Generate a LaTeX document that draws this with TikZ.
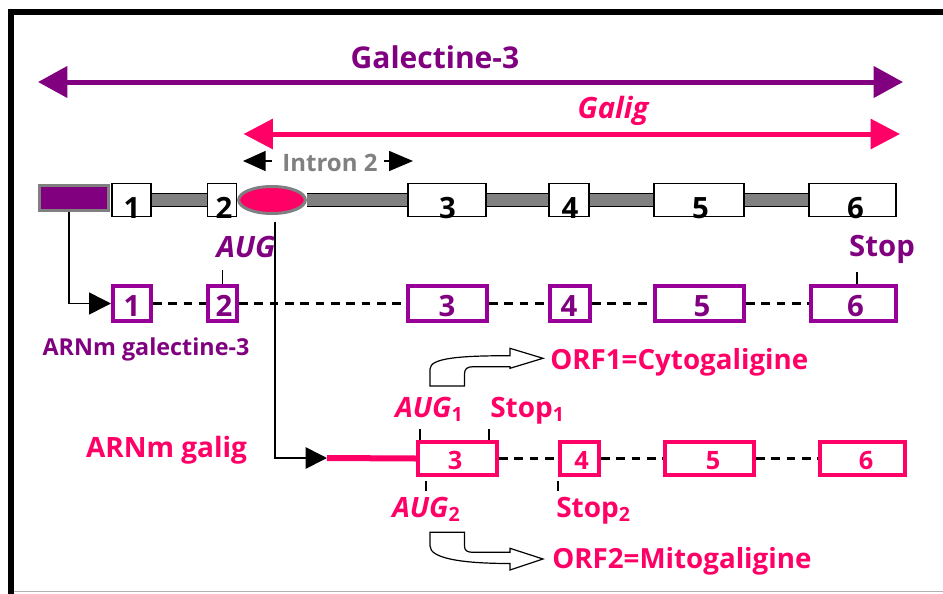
\documentclass[tikz,border=0pt]{standalone}
\usepackage{fontspec}
\setmainfont{Open Sans}
\usetikzlibrary{arrows.meta,shapes.geometric,backgrounds}
\definecolor{purp}{HTML}{800080}
\definecolor{mpurp}{HTML}{990099}
\definecolor{pinkc}{HTML}{FF0066}
\definecolor{gbar}{HTML}{808080}
\newcommand\myfs[1]{\fontsize{#1}{#1}\selectfont}
\tikzset{
  gbox/.style={draw=black, line width=1.2pt, fill=white, inner sep=0pt, minimum height=24.75pt},
  mbox/.style={draw=mpurp, line width=3pt, fill=white, inner sep=0pt, minimum height=25.8pt},
  pbox/.style={draw=pinkc, line width=3pt, fill=white, inner sep=0pt, minimum height=24.75pt},
  gdig/.style={font=\bfseries\myfs{22pt}, inner sep=0pt, anchor=base},
  mdig/.style={font=\bfseries\myfs{22pt}, text=purp, inner sep=0pt, anchor=base},
  pdig/.style={font=\bfseries\myfs{19pt}, text=pinkc, inner sep=0pt, anchor=base},
  link/.style={draw=black, line width=1.6pt, dash pattern=on 6.5pt off 5pt},
  conn/.style={draw=black, line width=1.2pt},
  tick/.style={draw=black, line width=1.1pt},
  bar/.style={draw=black, line width=0.7pt, double=gbar, double distance=8.5pt},
  blockarrow/.style={draw=black, line width=0.9pt, fill=white, line join=miter},
  lbl/.style={inner sep=0pt, anchor=base},
  lblw/.style={inner sep=0pt, anchor=base west},
}
\begin{document}
\begin{tikzpicture}[x=0.75pt,y=-0.75pt]
\useasboundingbox (0,0) rectangle (943,593);
% frame
\draw[gray!60, line width=1.2pt] (11,591.5) -- (943,591.5);
\draw[black, line width=4pt] (11,600) -- (11,12) -- (950,12);

% top arrows
\coordinate (ga1) at (38,82);
\coordinate (ga2) at (903,82);
\draw[purp, line width=3.75pt, {Triangle[length=22pt,width=23pt]}-{Triangle[length=22pt,width=23pt]}] (ga1) -- (ga2);
\node[lbl, text=purp, font=\bfseries\myfs{22.5pt}] (galt) at (435,68) {Galectine-3};
\coordinate (pa1) at (243.5,134);
\coordinate (pa2) at (900,134);
\draw[pinkc, line width=3.75pt, {Triangle[length=22pt,width=22pt]}-{Triangle[length=22pt,width=22pt]}] (pa1) -- (pa2);
\node[lbl, text=pinkc, font=\bfseries\itshape\myfs{22pt}] (galig) at (613,118) {Galig};

% intron 2
\node[lbl, text=gbar, font=\bfseries\myfs{18pt}] (intr) at (330,171) {Intron 2};
\coordinate (il1) at (272,161);
\coordinate (il2) at (243,161);
\coordinate (ir1) at (384,161);
\coordinate (ir2) at (413,161);
\draw[conn, -{Triangle[length=17pt,width=15pt]}] (il1) -- (il2);
\draw[conn, -{Triangle[length=18pt,width=15pt]}] (ir1) -- (ir2);

% gene row
\node[draw=gbar, line width=2.25pt, fill=purp, inner sep=0pt, minimum width=51.75pt, minimum height=18.75pt] (pr) at (74,198) {};
\node[gbox, minimum width=29.25pt] (g1) at (131.5,200) {};
\node[gbox, minimum width=21.5pt] (g2) at (222,200) {};
\node[draw=gbar, line width=2.25pt, fill=pinkc, ellipse, inner sep=0pt, minimum width=50pt, minimum height=20.25pt] (el) at (272,200) {};
\node[gbox, minimum width=58.5pt] (g3) at (447,200) {};
\node[gbox, minimum width=30pt] (g4) at (569,200) {};
\node[gbox, minimum width=67.5pt] (g5) at (699,200) {};
\node[gbox, minimum width=65.25pt] (g6) at (852.5,200) {};
\begin{scope}[on background layer]
\draw[bar] (g1.east) -- (g2.west);
\draw[bar] (el.east) -- (g3.west);
\draw[bar] (g3.east) -- (g4.west);
\draw[bar] (g4.east) -- (g5.west);
\draw[bar] (g5.east) -- (g6.west);
\end{scope}
\node[gdig] (g1t) at (132,218) {1};
\node[gdig] (g2t) at (224,218) {2};
\node[gdig] (g3t) at (447.5,218) {3};
\node[gdig] (g4t) at (570,218) {4};
\node[gdig] (g5t) at (700.5,218) {5};
\node[gdig] (g6t) at (855.5,218) {6};

% purple mRNA
\node[mbox, minimum width=28.5pt] (m1) at (132,303.5) {};
\node[mbox, minimum width=21.75pt] (m2) at (222.5,303.5) {};
\node[mbox, minimum width=59.25pt] (m3) at (447.5,303.5) {};
\node[mbox, minimum width=30pt] (m4) at (570,303.5) {};
\node[mbox, minimum width=66.75pt] (m5) at (699.5,303.5) {};
\node[mbox, minimum width=63.75pt] (m6) at (853.5,303.5) {};
\begin{scope}[on background layer]
\draw[link] (m1.east) -- (m2.west);
\draw[link] (m2.east) -- (m3.west);
\draw[link] (m3.east) -- (m4.west);
\draw[link] (m4.east) -- (m5.west);
\draw[link] (m5.east) -- (m6.west);
\end{scope}
\node[mdig] (m1t) at (132,316) {1};
\node[mdig] (m2t) at (224,316) {2};
\node[mdig] (m3t) at (447,316) {3};
\node[mdig] (m4t) at (569,316) {4};
\node[mdig] (m5t) at (702,316) {5};
\node[mdig] (m6t) at (855.5,316) {6};

\node[lbl, text=purp, font=\bfseries\itshape\myfs{22pt}] (aug) at (246,257) {AUG};
\draw[tick] (m2.north) -- ++(0,-14);
\node[lbl, text=purp, font=\bfseries\myfs{22pt}] (stop) at (882,256) {Stop};
\draw[tick] ([xshift=2.6pt]m6.north) -- ++(0,-12);
\node[lbl, text=purp, font=\bfseries\myfs{17.5pt}] (arnm1) at (146,355) {ARNm galectine-3};

% connectors
\draw[conn, -{Triangle[length=16.5pt,width=16.5pt]}] ([xshift=-3.75pt]pr.south) |- (m1.west);
\coordinate (pl) at (327,458);
\draw[conn, -{Triangle[length=16pt,width=16pt]}] ([xshift=2.25pt,yshift=-5pt]el.south) |- (pl);

% pink mRNA
\node[pbox, minimum width=59.25pt] (p3) at (457.5,458.5) {};
\node[pbox, minimum width=29.25pt] (p4) at (579.5,458.5) {};
\node[pbox, minimum width=66.75pt] (p5) at (709.5,458.5) {};
\node[pbox, minimum width=63.75pt] (p6) at (862.5,458.5) {};
\draw[pinkc, line width=4.5pt] (pl) -- (p3.west);
\begin{scope}[on background layer]
\draw[link] (p3.east) -- (p4.west);
\draw[link] (p4.east) -- (p5.west);
\draw[link] (p5.east) -- (p6.west);
\end{scope}
\node[pdig] (p3t) at (455,469) {3};
\node[pdig] (p4t) at (581.5,469) {4};
\node[pdig] (p5t) at (713,469) {5};
\node[pdig] (p6t) at (866,469) {6};

\node[lbl, text=pinkc, font=\bfseries\myfs{21pt}] (arnm2) at (166.5,457) {ARNm galig};

% AUG / Stop labels
\node[lblw, text=pinkc, font=\bfseries\myfs{21pt}] (aug1) at (395,417) {\itshape AUG\textsubscript{\upshape 1}};
\node[lblw, text=pinkc, font=\bfseries\myfs{21pt}] (stop1) at (490,417) {Stop\textsubscript{1}};
\node[lblw, text=pinkc, font=\bfseries\myfs{21pt}] (aug2) at (392,517) {\itshape AUG\textsubscript{\upshape 2}};
\node[lblw, text=pinkc, font=\bfseries\myfs{21pt}] (stop2) at (556,517) {Stop\textsubscript{2}};
\draw[tick] ([xshift=-28.1pt]p3.north) -- ++(0,-11);
\draw[tick] ([xshift=23.6pt]p3.north) -- ++(0,-11);
\draw[tick] ([xshift=-23.6pt,yshift=-3pt]p3.south) -- ++(0,10);
\draw[tick] ([yshift=-3pt]p4.south west) -- ++(0,10);

% ORF block arrows
\draw[blockarrow] (430,386) -- (430,369) .. controls (430,358) and (460,355.7) .. (510,355.7) -- (510,348.3) -- (543,358.3) -- (510,368.3) -- (510,366.7) -- (473,366.7) .. controls (467,366.7) and (464.5,369) .. (464.5,374) -- (464.5,386) -- cycle;
\node[lblw, text=pinkc, font=\bfseries\myfs{20.8pt}] (orf1) at (550,369) {ORF1=Cytogaligine};
\draw[blockarrow] (430,532.3) -- (464.5,532.3) -- (464.5,546) .. controls (464.5,550.5) and (467,552.3) .. (473,552.3) -- (510,552.3) -- (510,548.3) -- (543,559) -- (510,570) -- (510,563.5) .. controls (460,563.5) and (430,558) .. (430,546) -- cycle;
\node[lblw, text=pinkc, font=\bfseries\myfs{20.8pt}] (orf2) at (552,568) {ORF2=Mitogaligine};
\end{tikzpicture}
\end{document}
